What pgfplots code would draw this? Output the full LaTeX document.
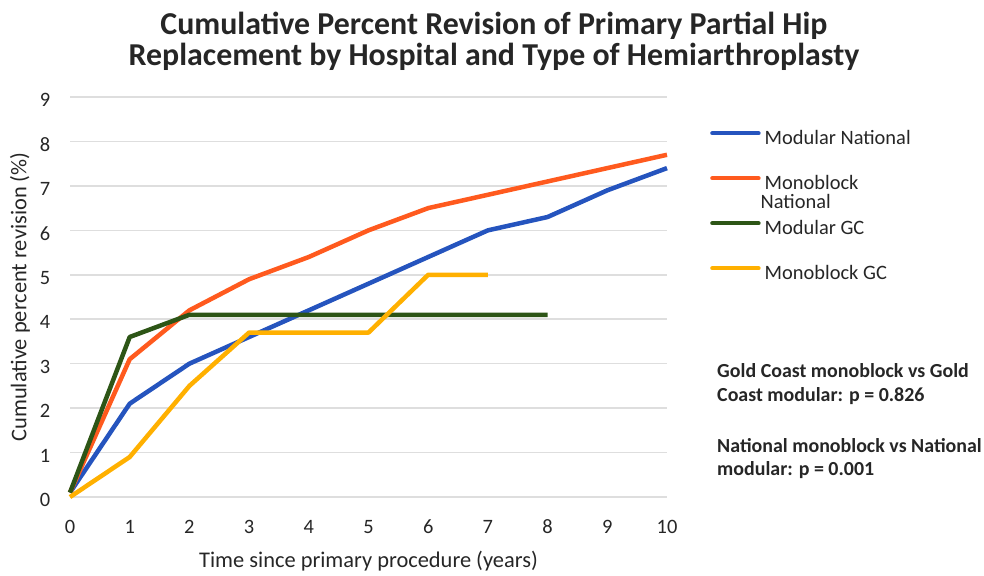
\documentclass[border=0pt]{standalone}
\usepackage{fontspec}
\setmainfont{Carlito}
\usepackage{pgfplots}
\pgfplotsset{compat=1.18}

\definecolor{cblue}{RGB}{37,84,190}
\definecolor{corange}{RGB}{255,90,30}
\definecolor{cgreen}{RGB}{45,85,22}
\definecolor{cyellow}{RGB}{255,176,0}
\definecolor{cgrid}{RGB}{222,222,222}
\definecolor{ctext}{RGB}{38,38,38}

\begin{document}
\begin{tikzpicture}
\useasboundingbox (0bp,0bp) rectangle (984bp,-576bp);

\node[anchor=base, font=\fontsize{32}{34}\selectfont\bfseries, text=ctext, inner sep=0pt]
  at (494bp,-34bp) {Cumulative Percent Revision of Primary Partial Hip};
\node[anchor=base, font=\fontsize{32}{34}\selectfont\bfseries, text=ctext, inner sep=0pt]
  at (494bp,-65bp) {Replacement by Hospital and Type of Hemiarthroplasty};

\begin{axis}[
    at={(70bp,-497bp)}, anchor=south west,
    scale only axis,
    width=597bp, height=400bp,
    xmin=0, xmax=10, ymin=0, ymax=9,
    xtick={0,...,10}, ytick={0,...,9},
    ymajorgrids,
    major grid style={draw=cgrid, line width=1.6bp},
    axis line style={draw=none},
    tick style={draw=none},
    clip=false,
    /pgf/number format/assume math mode=true,
    ticklabel style={font=\fontsize{20.5}{22}\selectfont, text=ctext},
    xticklabel style={anchor=base, yshift=-36bp},
    yticklabel style={anchor=center, xshift=-25bp, yshift=-3bp},
    xlabel={Time since primary procedure (years)},
    ylabel={Cumulative percent revision (\%)},
    every axis x label/.style={at={(axis description cs:0.5,-0.175)}, anchor=base,
        font=\fontsize{22.5}{24}\selectfont, text=ctext},
    every axis y label/.style={at={(axis description cs:-0.0838,0.5)}, rotate=90, anchor=center,
        font=\fontsize{22.5}{24}\selectfont, text=ctext},
    legend image code/.code={\draw[#1, line cap=round] (0bp,6bp) -- (46bp,6bp);},
    legend style={at={(axis description cs:1.072,0.92)}, anchor=north west,
        draw=none, fill=none, inner sep=0pt,
        font=\fontsize{20.5}{22}\selectfont, text=ctext,
        row sep=25bp, column sep=4bp,
        nodes={inner sep=0pt, text height=15bp, text depth=5bp}},
    legend cell align=left,
    every axis plot/.append style={line width=4.5bp, line join=round},
]
\addplot[cblue] coordinates {
    (0,0.1) (1,2.1) (2,3.0) (3,3.6) (4,4.2) (5,4.8)
    (6,5.4) (7,6.0) (8,6.3) (9,6.9) (10,7.4)
};
\addlegendentry{Modular National}
\addplot[corange] coordinates {
    (0,0.1) (1,3.1) (2,4.2) (3,4.9) (4,5.4) (5,6.0)
    (6,6.5) (7,6.8) (8,7.1) (9,7.4) (10,7.7)
};
\addlegendentry{\raisebox{0pt}[\height][0pt]{\begin{tabular}[t]{@{}l@{}}Monoblock\\[-3bp]\hspace{-4bp}National\end{tabular}}}
\addplot[cgreen] coordinates {
    (0,0.1) (1,3.6) (2,4.1) (3,4.1) (4,4.1) (5,4.1)
    (6,4.1) (7,4.1) (8,4.1)
};
\addlegendentry{Modular GC}
\addplot[cyellow] coordinates {
    (0,0.0) (1,0.9) (2,2.5) (3,3.7) (4,3.7) (5,3.7)
    (6,5.0) (7,5.0)
};
\addlegendentry{Monoblock GC}

\node[anchor=base west, inner sep=0pt, font=\fontsize{20}{24}\selectfont\bfseries, text=ctext]
  at (axis description cs:1.0838,0.3) {Gold Coast monoblock vs Gold};
\node[anchor=base west, inner sep=0pt, font=\fontsize{20}{24}\selectfont\bfseries, text=ctext]
  at (axis description cs:1.0838,0.24) {Coast modular: p = 0.826};
\node[anchor=base west, inner sep=0pt, font=\fontsize{20}{24}\selectfont\bfseries, text=ctext]
  at (axis description cs:1.0838,0.1125) {National monoblock vs National};
\node[anchor=base west, inner sep=0pt, font=\fontsize{20}{24}\selectfont\bfseries, text=ctext]
  at (axis description cs:1.0838,0.055) {modular: p = 0.001};
\end{axis}
\end{tikzpicture}
\end{document}
